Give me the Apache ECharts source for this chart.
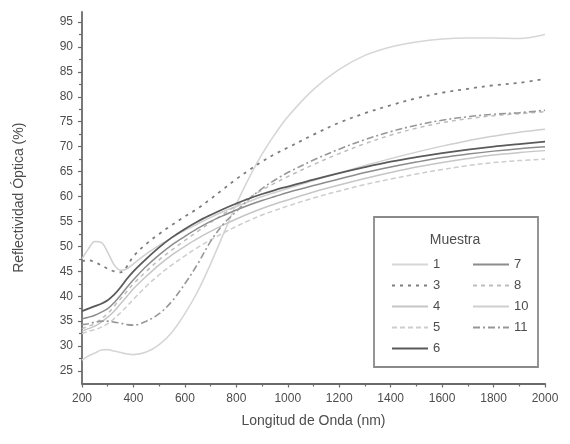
<!DOCTYPE html>
<html>
<head>
<meta charset="utf-8">
<script src="https://cdn.jsdelivr.net/npm/echarts@6/dist/echarts.min.js"></script>
<style>
  html, body { margin: 0; padding: 0; background: #fff; }
  #chart { width: 570px; height: 444px; }
</style>
</head>
<body>
<div id="chart"></div>
<script>
// Wavelength grid (nm)
const wavelength = [200, 225, 250, 275, 300, 325, 350, 375, 400, 450, 500, 550, 600, 650, 700, 750, 800, 850, 900, 950, 1000, 1100, 1200, 1300, 1400, 1500, 1600, 1700, 1800, 1900, 2000];

// Optical reflectivity (%) for each sample
const muestra1  = [27.2, 28.0, 28.6, 29.2, 29.3, 29.0, 28.7, 28.4, 28.3, 28.8, 30.3, 32.8, 36.5, 41.0, 46.5, 52.5, 58.5, 63.8, 68.5, 72.5, 76.0, 81.5, 85.5, 88.3, 90.0, 91.0, 91.6, 91.8, 91.8, 91.7, 92.5];
const muestra3  = [47.0, 47.2, 46.8, 46.2, 45.5, 45.0, 44.8, 46.0, 48.0, 50.5, 52.5, 54.3, 56.0, 57.6, 59.5, 61.5, 63.5, 65.3, 67.0, 68.5, 69.8, 72.4, 74.8, 76.7, 78.3, 79.7, 80.8, 81.6, 82.3, 82.8, 83.6];
const muestra4  = [33.0, 33.5, 34.0, 34.8, 35.8, 37.0, 38.5, 40.0, 41.5, 44.0, 46.3, 48.3, 50.0, 51.6, 53.0, 54.3, 55.5, 56.6, 57.6, 58.5, 59.3, 60.9, 62.3, 63.6, 64.8, 65.9, 66.8, 67.6, 68.3, 68.8, 69.2];
const muestra5  = [32.5, 33.0, 33.3, 33.8, 34.5, 35.5, 36.7, 38.0, 39.4, 42.0, 44.3, 46.3, 48.1, 49.8, 51.3, 52.7, 54.0, 55.2, 56.3, 57.2, 58.1, 59.7, 61.1, 62.4, 63.5, 64.5, 65.4, 66.2, 66.8, 67.2, 67.5];
const muestra6  = [37.0, 37.5, 38.0, 38.5, 39.2, 40.3, 41.8, 43.5, 45.0, 47.5, 49.8, 51.8, 53.5, 55.0, 56.3, 57.5, 58.6, 59.6, 60.5, 61.3, 62.0, 63.4, 64.7, 65.9, 67.0, 67.9, 68.7, 69.4, 70.0, 70.5, 71.0];
const muestra7  = [35.5, 35.8, 36.2, 36.8, 37.5, 38.7, 40.2, 41.8, 43.3, 46.0, 48.3, 50.3, 52.0, 53.6, 55.0, 56.2, 57.3, 58.3, 59.2, 60.0, 60.8, 62.2, 63.5, 64.8, 65.9, 66.9, 67.8, 68.5, 69.1, 69.6, 70.0];
const muestra8  = [33.5, 34.0, 34.5, 35.5, 36.5, 38.0, 39.5, 41.0, 42.5, 45.0, 47.3, 49.3, 51.2, 53.0, 54.8, 56.5, 58.2, 59.8, 61.3, 62.7, 64.0, 66.4, 68.6, 70.6, 72.3, 73.7, 74.8, 75.6, 76.2, 76.6, 77.0];
const muestra10 = [47.5, 49.5, 51.0, 50.8, 48.8, 46.3, 45.2, 45.5, 46.5, 48.5, 50.2, 51.8, 53.2, 54.5, 55.8, 57.0, 58.0, 59.0, 60.0, 60.8, 61.6, 63.2, 64.7, 66.2, 67.6, 68.9, 70.1, 71.2, 72.1, 72.9, 73.5];
const muestra11 = [34.3, 34.5, 34.8, 35.0, 35.0, 34.8, 34.6, 34.3, 34.2, 35.0, 36.5, 39.0, 42.5, 46.5, 51.0, 54.5, 57.0, 59.5, 61.6, 63.3, 64.8, 67.3, 69.5, 71.4, 73.0, 74.3, 75.3, 76.0, 76.5, 76.8, 77.3];

// Tick labels
const yLabels = [25, 30, 35, 40, 45, 50, 55, 60, 65, 70, 75, 80, 85, 90, 95];
const yMinorTicks = [27.5, 32.5, 37.5, 42.5, 47.5, 52.5, 57.5, 62.5, 67.5, 72.5, 77.5, 82.5, 87.5, 92.5];

const FONT = '"Liberation Sans", Arial, sans-serif';
const TEXT = '#4d4d4d';
const AXIS = '#6a6a6a';

function pairs(values) {
  return wavelength.map((w, i) => [w, values[i]]);
}

function line(name, values, color, width, type) {
  return {
    name: name,
    type: 'line',
    data: pairs(values),
    smooth: 0.35,
    symbol: 'none',
    silent: true,
    lineStyle: { color: color, width: width, type: type || 'solid' },
    itemStyle: { color: color }
  };
}

const series = [
  line('1', muestra1, '#d6d6d6', 1.6),
  line('10', muestra10, '#cfcfcf', 1.5),
  line('4', muestra4, '#c6c6c6', 1.5),
  line('5', muestra5, '#cdcdcd', 1.5, [5, 3]),
  line('8', muestra8, '#bdbdbd', 1.5, [4, 4]),
  line('7', muestra7, '#8c8c8c', 1.5),
  line('11', muestra11, '#979797', 1.6, [7, 3, 2, 3]),
  line('3', muestra3, '#7e7e7e', 1.8, [3, 5]),
  line('6', muestra6, '#5a5a5a', 1.8)
];

const legendText = { fontFamily: FONT, fontSize: 13, color: TEXT };
const legendCommon = {
  orient: 'vertical',
  itemWidth: 36,
  itemHeight: 14,
  itemGap: 8,
  selectedMode: false,
  itemStyle: { opacity: 0 },
  textStyle: legendText
};

const chart = echarts.init(document.getElementById('chart'), null, { renderer: 'canvas' });
chart.setOption({
  animation: false,
  backgroundColor: '#ffffff',
  grid: { left: 82, right: 25, top: 12, bottom: 60.5, containLabel: false },
  xAxis: {
    type: 'value',
    min: 200,
    max: 2000,
    interval: 200,
    name: 'Longitud de Onda (nm)',
    nameLocation: 'middle',
    nameGap: 31,
    nameTextStyle: { fontFamily: FONT, fontSize: 14, color: TEXT },
    axisLine: { lineStyle: { color: AXIS, width: 1.8 } },
    axisTick: { length: 4, lineStyle: { color: AXIS, width: 1.2 } },
    minorTick: { show: true, splitNumber: 2, length: 3, lineStyle: { color: AXIS, width: 1.2 } },
    axisLabel: { fontFamily: FONT, fontSize: 12, color: TEXT, margin: 9, formatter: v => String(v) },
    splitLine: { show: false }
  },
  yAxis: [
    {
      type: 'value',
      min: 22.5,
      max: 97,
      name: 'Reflectividad Óptica (%)',
      nameLocation: 'middle',
      nameGap: 56,
      nameTextStyle: { fontFamily: FONT, fontSize: 14, color: TEXT },
      axisLine: { show: true, lineStyle: { color: AXIS, width: 1.8 } },
      axisTick: { show: true, length: 4, customValues: yLabels, lineStyle: { color: AXIS, width: 1.2 } },
      axisLabel: { customValues: yLabels, fontFamily: FONT, fontSize: 12, color: TEXT, margin: 9 },
      splitLine: { show: false }
    },
    {
      type: 'value',
      min: 22.5,
      max: 97,
      position: 'left',
      axisLine: { show: false },
      axisTick: { show: true, length: 3, customValues: yMinorTicks, lineStyle: { color: AXIS, width: 1.2 } },
      axisLabel: { show: false, customValues: yMinorTicks },
      splitLine: { show: false }
    }
  ],
  legend: [
    Object.assign({ data: ['1', '3', '4', '5', '6'], left: 386, top: 253 }, legendCommon),
    Object.assign({ data: ['7', '8', '10', '11'], left: 467, top: 253 }, legendCommon)
  ],
  graphic: [
    {
      type: 'rect',
      z: 0,
      shape: { x: 374, y: 217, width: 164, height: 150 },
      style: { fill: '#ffffff', stroke: '#8a8a8a', lineWidth: 1.8 }
    },
    {
      type: 'text',
      z: 1,
      x: 455,
      y: 240,
      style: {
        text: 'Muestra',
        fontFamily: FONT,
        fontSize: 14,
        fill: TEXT,
        align: 'center',
        verticalAlign: 'middle'
      }
    }
  ],
  series: series
});
</script>
</body>
</html>
